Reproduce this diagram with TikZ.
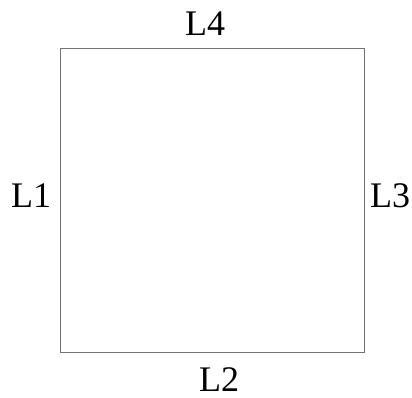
\documentclass[tikz,border=0pt]{standalone}
\usepackage{fontspec}
\setmainfont{Liberation Serif}
\usepackage{tikz}
\usetikzlibrary{calc}

\begin{document}
\begin{tikzpicture}[x=1pt,y=1pt,lbl/.style={anchor=base,inner sep=0pt,font=\fontsize{36}{40}\selectfont}]
  \useasboundingbox (0,0) rectangle (412,397);
  \coordinate (SW) at (60,45); \coordinate (SE) at (364,45); \coordinate (NE) at (364,349); \coordinate (NW) at (60,349);
  \draw[line width=.9pt,black!55] (SW)--(SE)--(NE)--(NW)--cycle;
  \node[lbl] (L1) at (31,190) {L1};
  \node[lbl] (L2) at (219,6) {L2};
  \node[lbl] (L3) at (390,190) {L3};
  \node[lbl] (L4) at (205,361) {L4};
\end{tikzpicture}
\end{document}
